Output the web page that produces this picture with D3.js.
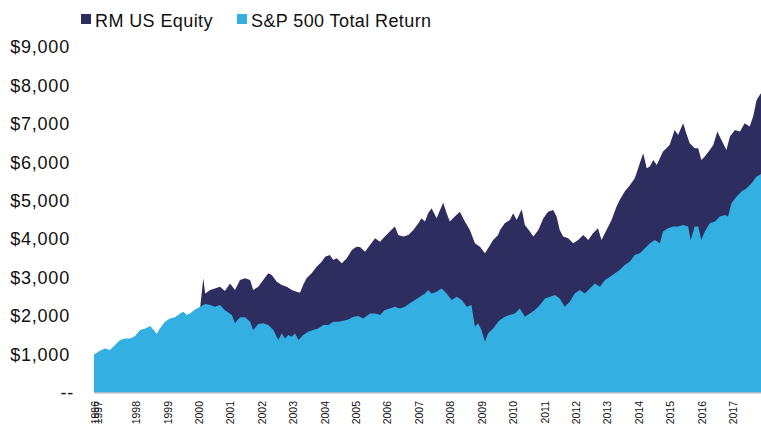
<!DOCTYPE html>
<html>
<head>
<meta charset="utf-8">
<script src="https://cdn.jsdelivr.net/npm/d3@7/dist/d3.min.js"></script>
<style>
  body { margin: 0; background: #fff; }
  #chart text { font-family: "Helvetica Neue", Helvetica, Arial, "Liberation Sans", sans-serif; fill: #111; }
</style>
</head>
<body>
<div id="chart"></div>
<script>
// Growth of $1,000 (fractional years)
const seriesNames = ['RM US Equity', 'S&P 500 Total Return'];
const seriesColors = ['#2e2d5f', '#33afe2'];

const spYears = [1996.66, 1996.85, 1997.01, 1997.17, 1997.33, 1997.49, 1997.65, 1997.81, 1997.97,
  1998.13, 1998.29, 1998.45, 1998.54, 1998.66, 1998.76, 1998.92, 1999.08, 1999.24, 1999.40, 1999.51,
  1999.61, 1999.72, 1999.88, 2000.04, 2000.20, 2000.36, 2000.51, 2000.67, 2000.83, 2001.05, 2001.15,
  2001.31, 2001.47, 2001.63, 2001.73, 2001.89, 2002.05, 2002.21, 2002.37, 2002.53, 2002.64, 2002.74,
  2002.85, 2002.96, 2003.06, 2003.17, 2003.32, 2003.48, 2003.64, 2003.80, 2003.96, 2004.12, 2004.28,
  2004.44, 2004.60, 2004.76, 2004.92, 2005.08, 2005.23, 2005.45, 2005.61, 2005.77, 2005.92, 2006.08,
  2006.24, 2006.40, 2006.56, 2006.72, 2006.88, 2007.04, 2007.20, 2007.30, 2007.41, 2007.57, 2007.73,
  2007.89, 2008.05, 2008.21, 2008.37, 2008.53, 2008.68, 2008.79, 2008.89, 2009.00, 2009.11, 2009.21,
  2009.37, 2009.53, 2009.59, 2009.74, 2009.90, 2010.06, 2010.22, 2010.38, 2010.54, 2010.70, 2010.86,
  2011.02, 2011.18, 2011.34, 2011.49, 2011.65, 2011.81, 2011.97, 2012.13, 2012.29, 2012.45, 2012.61,
  2012.77, 2012.93, 2013.09, 2013.25, 2013.40, 2013.56, 2013.72, 2013.88, 2014.04, 2014.20, 2014.36,
  2014.52, 2014.68, 2014.78, 2014.94, 2015.10, 2015.26, 2015.42, 2015.58, 2015.66, 2015.79, 2015.90,
  2016.00, 2016.11, 2016.27, 2016.43, 2016.59, 2016.75, 2016.85, 2016.96, 2017.12, 2017.28, 2017.44,
  2017.60, 2017.76, 2017.86, 2017.90];
const spValues = [1000, 1100, 1160, 1120, 1250, 1380, 1420, 1420, 1480,
  1640, 1680, 1740, 1660, 1535, 1680, 1855, 1940, 1970, 2070, 2115,
  2030, 2070, 2175, 2245, 2315, 2290, 2245, 2290, 2150, 2030, 1815,
  1970, 1970, 1855, 1640, 1795, 1815, 1770, 1640, 1380, 1555, 1420,
  1510, 1465, 1555, 1380, 1510, 1595, 1640, 1680, 1770, 1770, 1855,
  1855, 1880, 1915, 1985, 2000, 1940, 2070, 2070, 2030, 2160, 2200,
  2245, 2200, 2245, 2335, 2420, 2505, 2590, 2680, 2590, 2635, 2720,
  2590, 2420, 2505, 2420, 2245, 2290, 1725, 1815, 1640, 1335, 1555,
  1680, 1855, 1900, 1985, 2030, 2070, 2200, 1985, 2070, 2160, 2290,
  2460, 2505, 2550, 2460, 2245, 2375, 2590, 2680, 2590, 2720, 2850,
  2765, 2940, 3025, 3115, 3200, 3330, 3415, 3590, 3635, 3765, 3895,
  3980, 3895, 4200, 4285, 4330, 4330, 4370, 4330, 3980, 4330, 4330,
  3980, 4200, 4415, 4460, 4590, 4630, 4590, 4935, 5110, 5240, 5325,
  5455, 5630, 5670, 5700];

const rmYears = [1996.66, 1996.85, 1997.01, 1997.17, 1997.33, 1997.49, 1997.65, 1997.81, 1997.97,
  1998.13, 1998.29, 1998.45, 1998.54, 1998.66, 1998.76, 1998.92, 1999.08, 1999.24, 1999.40, 1999.51,
  1999.61, 1999.72, 1999.88, 2000.04, 2000.14, 2000.20, 2000.36, 2000.51, 2000.67, 2000.83, 2000.99,
  2001.15, 2001.31, 2001.47, 2001.63, 2001.73, 2001.89, 2002.05, 2002.21, 2002.32, 2002.48, 2002.64,
  2002.80, 2002.96, 2003.11, 2003.22, 2003.32, 2003.43, 2003.59, 2003.75, 2003.91, 2004.02, 2004.17,
  2004.28, 2004.39, 2004.55, 2004.71, 2004.87, 2005.02, 2005.13, 2005.29, 2005.45, 2005.61, 2005.77,
  2005.92, 2006.08, 2006.24, 2006.35, 2006.51, 2006.67, 2006.83, 2006.99, 2007.09, 2007.20, 2007.30,
  2007.41, 2007.57, 2007.68, 2007.78, 2007.89, 2007.99, 2008.15, 2008.31, 2008.47, 2008.63, 2008.79,
  2008.95, 2009.11, 2009.21, 2009.37, 2009.53, 2009.59, 2009.74, 2009.90, 2010.01, 2010.12, 2010.28,
  2010.38, 2010.54, 2010.65, 2010.81, 2010.97, 2011.12, 2011.28, 2011.39, 2011.49, 2011.60, 2011.76,
  2011.92, 2012.08, 2012.24, 2012.40, 2012.55, 2012.71, 2012.82, 2012.98, 2013.14, 2013.30, 2013.40,
  2013.56, 2013.72, 2013.88, 2013.93, 2014.04, 2014.15, 2014.26, 2014.36, 2014.47, 2014.58, 2014.68,
  2014.78, 2014.89, 2014.99, 2015.15, 2015.26, 2015.42, 2015.52, 2015.63, 2015.79, 2015.90, 2016.00,
  2016.11, 2016.27, 2016.38, 2016.51, 2016.64, 2016.80, 2016.91, 2017.07, 2017.23, 2017.38, 2017.54,
  2017.65, 2017.76, 2017.86, 2017.90];
const rmValues = [980, 1080, 1140, 1100, 1230, 1360, 1400, 1400, 1460,
  1620, 1660, 1720, 1640, 1515, 1660, 1835, 1920, 1950, 2050, 2095,
  2010, 2050, 2155, 2225, 2985, 2590, 2680, 2720, 2765, 2650, 2850,
  2680, 2940, 2985, 2940, 2680, 2765, 2940, 3115, 3070, 2895, 2810,
  2765, 2680, 2635, 2610, 2810, 2985, 3115, 3285, 3415, 3545, 3590,
  3460, 3505, 3375, 3505, 3720, 3805, 3800, 3675, 3850, 4025, 3935,
  4070, 4200, 4330, 4110, 4070, 4110, 4240, 4415, 4545, 4460, 4675,
  4805, 4545, 4760, 4950, 4675, 4460, 4590, 4715, 4460, 4240, 3895,
  3805, 3635, 3765, 3980, 4110, 4240, 4415, 4500, 4675, 4500, 4780,
  4370, 4200, 4070, 4240, 4545, 4715, 4760, 4590, 4240, 4070, 4025,
  3895, 3980, 4110, 3980, 4155, 4285, 3980, 4240, 4500, 4850, 5020,
  5240, 5400, 5585, 5700, 5975, 6235, 5845, 5890, 6060, 5930, 6105,
  6280, 6365, 6450, 6840, 6710, 7015, 6755, 6495, 6365, 6365, 6060,
  6150, 6320, 6450, 6800, 6580, 6320, 6670, 6840, 6800, 7015, 6930,
  7190, 7620, 7750, 7800];

const yTicks = [0, 1000, 2000, 3000, 4000, 5000, 6000, 7000, 8000, 9000];
const xTickYears = [1996.69, 1996.79, 1998, 1999, 2000, 2001, 2002, 2003, 2004, 2005, 2006,
  2007, 2008, 2009, 2010, 2011, 2012, 2013, 2014, 2015, 2016, 2017];
const xTickLabels = ['1996', '1997', '1998', '1999', '2000', '2001', '2002', '2003', '2004', '2005', '2006',
  '2007', '2008', '2009', '2010', '2011', '2012', '2013', '2014', '2015', '2016', '2017'];

const W = 761, H = 425;
const svg = d3.select('#chart').append('svg')
    .attr('width', W)
    .attr('height', H);

const x = d3.scaleLinear()
    .domain([1996.66, 2017.90])
    .range([94, 761]);

const y = d3.scaleLinear()
    .domain([0, 9000])
    .range([393, 47]);

const area = d3.area()
    .x(d => x(d[0]))
    .y0(y(0))
    .y1(d => y(d[1]));

const rm = rmYears.map((t, i) => [t, rmValues[i]]);
const sp = spYears.map((t, i) => [t, spValues[i]]);

// RM behind, S&P drawn over it
svg.append('path')
    .datum(rm)
    .attr('d', area)
    .attr('fill', seriesColors[0]);

svg.append('path')
    .datum(sp)
    .attr('d', area)
    .attr('fill', seriesColors[1]);

// baseline
svg.append('line')
    .attr('x1', x.range()[0])
    .attr('x2', x.range()[1])
    .attr('y1', y(0))
    .attr('y2', y(0))
    .attr('stroke', '#c4c4c4')
    .attr('stroke-width', 1.5);

// y axis
const fmt = d3.format(',');
const yAxis = svg.append('g')
    .attr('transform', 'translate(73,0)')
    .call(d3.axisLeft(y)
        .tickValues(yTicks)
        .tickSize(0)
        .tickPadding(3)
        .tickFormat(d => d === 0 ? '--' : '$' + fmt(d)));
yAxis.select('.domain').remove();
yAxis.selectAll('text')
    .style('font-size', '18px')
    .style('letter-spacing', '0.8px')
    .attr('dx', d => d === 0 ? 4 : 0);

// x axis
const xAxis = svg.append('g')
    .attr('transform', `translate(0,${y(0)})`)
    .call(d3.axisBottom(x)
        .tickValues(xTickYears)
        .tickSize(0)
        .tickFormat((d, i) => xTickLabels[i]));
xAxis.select('.domain').remove();
xAxis.selectAll('text')
    .attr('transform', 'rotate(-90)')
    .attr('text-anchor', 'end')
    .attr('x', -8)
    .attr('y', 0)
    .attr('dy', '0.35em')
    .style('font-size', '10.5px');

// legend
const legendX = [81, 237];
const legend = svg.append('g');
seriesNames.forEach((name, i) => {
    legend.append('rect')
        .attr('x', legendX[i])
        .attr('y', 14)
        .attr('width', 10)
        .attr('height', 10)
        .attr('fill', seriesColors[i]);
    legend.append('text')
        .attr('x', legendX[i] + 14)
        .attr('y', 27)
        .style('font-size', '18px')
        .style('letter-spacing', '0.4px')
        .text(name);
});
</script>
</body>
</html>
